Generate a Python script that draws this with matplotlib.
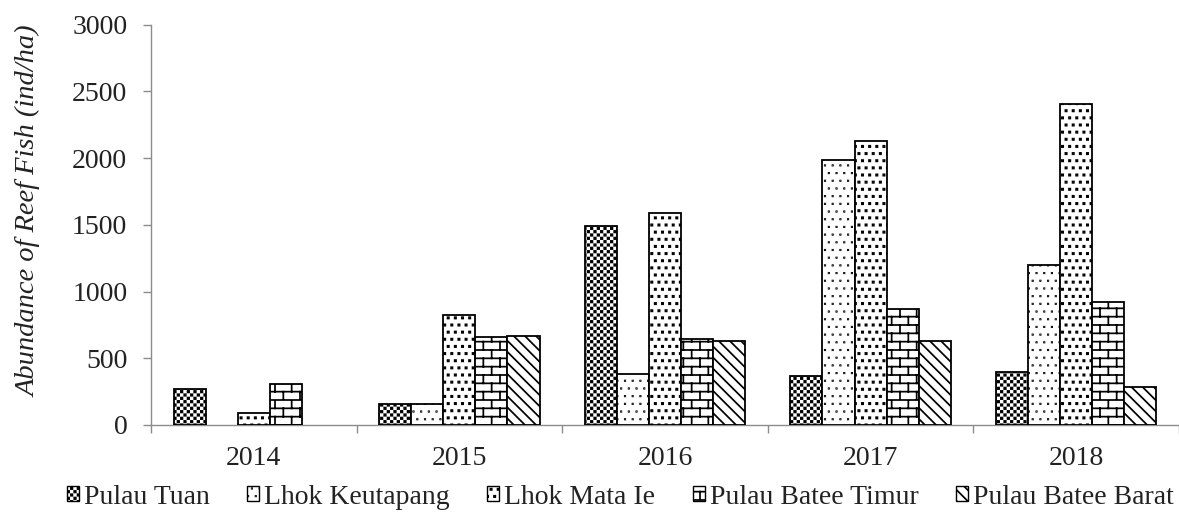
import numpy as np
import matplotlib
matplotlib.use("Agg")
import matplotlib.pyplot as plt
import matplotlib.hatch as mhatch
from matplotlib.path import Path
from matplotlib.ticker import FixedLocator

# ---------------- data ----------------
years = ["2014", "2015", "2016", "2017", "2018"]
series_names = ["Pulau Tuan", "Lhok Keutapang", "Lhok Mata Ie",
                "Pulau Batee Timur", "Pulau Batee Barat"]
pulau_tuan = [267, 155, 1492, 366, 396]
lhok_keutapang = [0, 155, 380, 1987, 1197]
lhok_mata_ie = [92, 823, 1592, 2132, 2406]
pulau_batee_timur = [307, 656, 642, 870, 920]
pulau_batee_barat = [0, 666, 632, 633, 284]
series_values = [pulau_tuan, lhok_keutapang, lhok_mata_ie,
                 pulau_batee_timur, pulau_batee_barat]
y_ticks = [0, 500, 1000, 1500, 2000, 2500, 3000]

# ---------------- custom hatch patterns ----------------
HATCH_LW = 1.25                      # points
LW_UNITS = HATCH_LW / 72.0           # hatch unit cell = 1 inch
CLOSE = [Path.MOVETO, Path.LINETO, Path.LINETO, Path.LINETO, Path.CLOSEPOLY]


def _square(cx, cy, s):
    h = max(s, 0.0005) / 2.0
    return [[cx - h, cy - h], [cx + h, cy - h], [cx + h, cy + h],
            [cx - h, cy + h], [cx - h, cy - h]]


class _CustomHatch(mhatch.HatchPatternBase):
    char = None

    def __init__(self, hatch, density):
        n = hatch.count(self.char)
        if n:
            v, c = self.build(n)
            self._v = np.asarray(v, float).reshape(-1, 2)
            self._c = np.asarray(c, dtype=Path.code_type)
        else:
            self._v = np.empty((0, 2))
            self._c = np.empty(0, dtype=Path.code_type)
        self.num_vertices = len(self._v)

    def set_vertices_and_codes(self, vertices, codes):
        vertices[:] = self._v
        codes[:] = self._c


class Checker(_CustomHatch):
    char = "*"

    def build(self, n):
        N = 30
        cell = 1.0 / N
        v, c = [], []
        for i in range(N):
            for j in range(N):
                if (i + j) % 2 == 0:
                    v += _square((i + 0.5) * cell, (j + 0.5) * cell,
                                 cell - LW_UNITS - 0.001)
                    c += CLOSE
        return v, c


class SmallDots(_CustomHatch):
    char = "."

    def build(self, n):
        M = 13
        sp = 1.0 / M
        v, c = [], []
        for r in range(M):
            shift = 0.5 * sp if r % 2 else 0.0
            for k in range(M):
                v += _square(k * sp + shift + 0.25 * sp, r * sp + 0.5 * sp, 0.004)
                c += CLOSE
        return v, c


class BigDots(_CustomHatch):
    char = "o"

    def build(self, n):
        M = 14
        sp = 1.0 / M
        v, c = [], []
        for r in range(M):
            shift = 0.5 * sp if r % 2 else 0.0
            for k in range(M):
                v += _square(k * sp + shift + 0.25 * sp, r * sp + 0.5 * sp, 0.013)
                c += CLOSE
        return v, c


class Bricks(_CustomHatch):
    char = "O"

    def build(self, n):
        R, W = 12, 6
        v, c = [], []
        for k in range(R + 1):
            v += [[0, k / R], [1, k / R]]
            c += [Path.MOVETO, Path.LINETO]
        for k in range(R):
            shift = 0.5 if k % 2 else 0.0
            for j in range(W + 1):
                x = (j + shift) / W
                if x > 1:
                    continue
                v += [[x, k / R], [x, (k + 1) / R]]
                c += [Path.MOVETO, Path.LINETO]
        return v, c


mhatch._hatch_types = [Checker, SmallDots, BigDots, Bricks,
                       mhatch.SouthEastHatch]
series_hatches = ["*", ".", "o", "O", "\\\\\\"]

# ---------------- figure ----------------
plt.rcParams["font.family"] = ["Liberation Serif", "DejaVu Serif"]
plt.rcParams["hatch.linewidth"] = HATCH_LW
plt.rcParams["hatch.color"] = "black"

fig = plt.figure(figsize=(11.79, 5.21), dpi=100)
ax = fig.add_axes([0.128, 0.1843, 0.872, 0.7683])

x = np.arange(len(years))
bw = 0.156
n = len(series_names)
for i, (name, vals, h) in enumerate(zip(series_names, series_values, series_hatches)):
    lws = [1.3 if v > 0 else 0.0 for v in vals]
    ax.bar(x + (i - (n - 1) / 2) * bw, vals, width=bw, color="white",
           edgecolor="black", linewidth=lws, hatch=h, label=name, zorder=3)

ax.set_xlim(-0.5, 4.5)
ax.set_ylim(0, 3000)
ax.set_yticks(y_ticks)
ax.set_xticks(x)
ax.set_xticklabels(years)
ax.xaxis.set_minor_locator(FixedLocator(np.arange(-0.5, 5.0, 1.0)))

gray = "#8c8c8c"
for s in ["top", "right"]:
    ax.spines[s].set_visible(False)
for s in ["left", "bottom"]:
    ax.spines[s].set_color(gray)
    ax.spines[s].set_linewidth(1.0)

ax.tick_params(axis="y", which="major", length=5.5, width=1.0, color=gray,
               labelsize=20, pad=11.5, labelcolor="#222222")
ax.tick_params(axis="x", which="major", length=0, labelsize=20, pad=15,
               labelcolor="#222222")
ax.tick_params(axis="x", which="minor", length=6, width=1.0, color=gray)

ax.set_ylabel("Abundance of Reef Fish (ind/ha)", fontsize=20.5,
              fontstyle="italic", color="#222222")
ax.yaxis.set_label_coords(-0.106, 0.533)

leg = fig.legend(loc="center", bbox_to_anchor=(0.526, 0.046), ncol=5,
                 frameon=False, fontsize=20, handlelength=0.43,
                 handleheight=0.43, handletextpad=0.18, columnspacing=1.35,
                 borderaxespad=0, borderpad=0)
for t in leg.get_texts():
    t.set_color("#222222")
for p in leg.get_patches():
    p.set_linewidth(1.0)

fig.savefig("out.png", dpi=100)
